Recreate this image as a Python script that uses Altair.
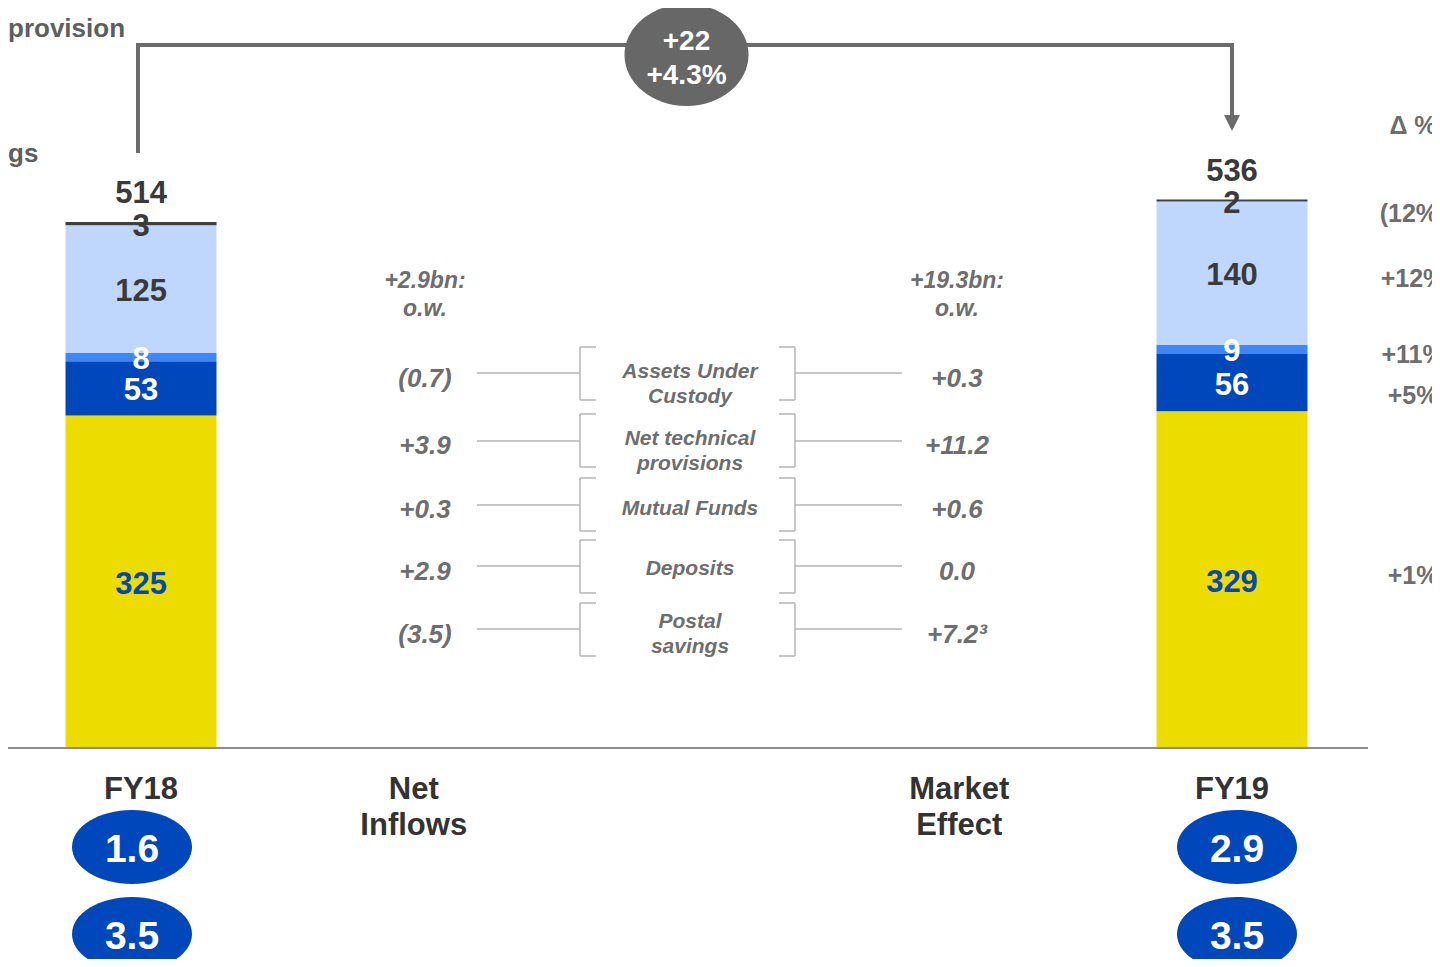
import altair as alt
import pandas as pd

FONT = "Liberation Sans"

# ---------------- data ----------------
bridge_keys = ["FY18", "Net Inflows", "mid", "Market Effect", "FY19"]
bridge_labels = ["FY18", "Net\nInflows", "", "Market\nEffect", "FY19"]
periods = ["FY18", "FY19"]
segments = ["Postal savings", "Deposits", "Mutual Funds",
            "Net technical provisions", "Assets Under Custody"]
fy18_values = [325, 53, 8, 125, 3]
fy19_values = [329, 56, 9, 140, 2]
delta_header = "Δ %"
delta_labels = ["+1%", "+5%", "+11%", "+12%", "(12%)"]          # same order as segments

row_names = ["Assets Under\nCustody", "Net technical\nprovisions",
             "Mutual Funds", "Deposits", "Postal\nsavings"]
net_inflow_labels = ["(0.7)", "+3.9", "+0.3", "+2.9", "(3.5)"]
market_effect_labels = ["+0.3", "+11.2", "+0.6", "0.0", "+7.2³"]
net_inflow_total = "+2.9bn:\no.w."
market_effect_total = "+19.3bn:\no.w."
total_change = "+22\n+4.3%"
fy18_bubbles = ["1.6", "3.5"]
fy19_bubbles = ["2.9", "3.5"]
cropped_legend = ["provision", "gs"]

# ---------------- styles / layout ----------------
seg_colors = ["#EDDC00", "#0047BB", "#3F86F7", "#BFD6FD", "#404040"]
seg_label_colors = ["#0047BB", "#FFFFFF", "#FFFFFF", "#3A3A3A", "#3A3A3A"]
DARK = "#3A3A3A"
GREY = "#6E6E6E"
LINE_GREY = "#B4B4B4"
BLUE = "#0047BB"

W, H = 1424, 951
OFF = 8  # page margin


def px(v):
    return v - OFF


def top_y(center, size):
    # y for baseline="top" so that the first line's cap centre sits at `center` (page px)
    return px(center) - 0.432 * size


xscale = alt.Scale(domain=bridge_keys, paddingInner=0.4464, paddingOuter=0.3337, align=0.316)
yscale = alt.Scale(domain=[-206.2, 723.2], nice=False, zero=False)

rows = []
for p, vals in zip(periods, [fy18_values, fy19_values]):
    for i, (s, v) in enumerate(zip(segments, vals)):
        rows.append({"cat": p, "segment": s, "value": v, "idx": i,
                     "label_color": seg_label_colors[i]})
bars_df = pd.DataFrame(rows)

bars = alt.Chart(bars_df).mark_bar().encode(
    x=alt.X("cat:N", scale=xscale, axis=None),
    y=alt.Y("value:Q", stack="zero", scale=yscale, axis=None),
    color=alt.Color("segment:N", scale=alt.Scale(domain=segments, range=seg_colors), legend=None),
    order=alt.Order("idx:Q", sort="ascending"),
)

seg_labels = alt.Chart(bars_df).transform_stack(
    stack="value", groupby=["cat"], as_=["y0", "y1"],
    sort=[alt.SortField("idx", order="ascending")],
).transform_calculate(mid="(datum.y0 + datum.y1) / 2").mark_text(
    font=FONT, fontSize=31, fontWeight="bold", baseline="middle", dy=3
).encode(
    x=alt.X("cat:N", scale=xscale, axis=None),
    y=alt.Y("mid:Q", scale=yscale, axis=None),
    text=alt.Text("value:Q"),
    color=alt.Color("label_color:N", scale=None),
)

totals = alt.Chart(bars_df).transform_aggregate(
    total="sum(value)", groupby=["cat"]
).mark_text(font=FONT, fontSize=31, fontWeight="bold", baseline="middle", dy=-28, color=DARK).encode(
    x=alt.X("cat:N", scale=xscale, axis=None),
    y=alt.Y("total:Q", scale=yscale, axis=None),
    text=alt.Text("total:Q"),
)

cat_df = pd.DataFrame({"cat": bridge_keys, "label": bridge_labels})
cat_labels = alt.Chart(cat_df).mark_text(
    font=FONT, fontSize=31, fontWeight="bold", baseline="top", lineBreak="\n",
    lineHeight=36, color="#333333"
).encode(
    x=alt.X("cat:N", scale=xscale, axis=None),
    y=alt.value(top_y(788, 31)),
    text="label:N",
)

baseline = alt.Chart(pd.DataFrame({"a": [0]})).mark_rule(color="#8C8C8C", strokeWidth=2).encode(
    x=alt.value(0), x2=alt.value(px(1368)),
    y=alt.YDatum(0, type="quantitative", scale=yscale, axis=None),
)

# top bracket with arrow
bracket_df = pd.DataFrame({"x": [px(138), px(138), px(1232), px(1232)],
                           "y": [px(153), px(45), px(45), px(118)],
                           "o": [0, 1, 2, 3]})
bracket = alt.Chart(bracket_df).mark_line(color="#6B6B6B", strokeWidth=4, strokeJoin="miter").encode(
    x=alt.X("x:Q", scale=None), y=alt.Y("y:Q", scale=None), order="o:Q")
arrow = alt.Chart(pd.DataFrame({"a": [0]})).mark_point(
    shape="M-1,-1L1,-1L0,1Z", filled=True, opacity=1, color="#6B6B6B", size=256
).encode(x=alt.value(px(1232)), y=alt.value(px(123)))

ELL_GREY = "M-1,0A1,0.823,0,1,0,1,0A1,0.823,0,1,0,-1,0Z"
ELL_BLUE = "M-1,0A1,0.617,0,1,0,1,0A1,0.617,0,1,0,-1,0Z"

change_bubble = alt.Chart(pd.DataFrame({"cat": ["mid"]})).mark_point(
    shape=ELL_GREY, filled=True, opacity=1, color="#676767", size=124 ** 2
).encode(x=alt.X("cat:N", scale=xscale, axis=None), y=alt.value(px(55)))
change_text = alt.Chart(pd.DataFrame({"cat": ["mid"], "t": [total_change]})).mark_text(
    font=FONT, fontSize=28, fontWeight="bold", baseline="top", lineBreak="\n",
    lineHeight=34, color="white"
).encode(x=alt.X("cat:N", scale=xscale, axis=None), y=alt.value(top_y(40, 28)), text="t:N")

bub_rows = []
for xpos, labels in zip([132, 1237], [fy18_bubbles, fy19_bubbles]):
    for ypos, lab in zip([847, 934], labels):
        bub_rows.append({"x": px(xpos), "y": px(ypos), "t": lab, "ty": top_y(ypos + 1, 39)})
bub_df = pd.DataFrame(bub_rows)
bubbles = alt.Chart(bub_df).mark_point(
    shape=ELL_BLUE, filled=True, opacity=1, color=BLUE, size=120 ** 2
).encode(x=alt.X("x:Q", scale=None), y=alt.Y("y:Q", scale=None))
bubble_text = alt.Chart(bub_df).mark_text(
    font=FONT, fontSize=39, fontWeight="bold", baseline="top", color="white"
).encode(x=alt.X("x:Q", scale=None), y=alt.Y("ty:Q", scale=None), text="t:N")

# middle breakdown
val_centres = [377, 444, 508, 570, 633]
name_centres = [370, 437, 507, 567, 620]
line_ys = [373, 441, 505, 566, 629]
br_top = [347, 414, 478, 540, 603]
br_bot = [400, 467, 531, 593, 656]

hdr_df = pd.DataFrame({"x": [px(425), px(957)], "y": [top_y(280, 23)] * 2,
                       "t": [net_inflow_total, market_effect_total]})
headers = alt.Chart(hdr_df).mark_text(
    font=FONT, fontSize=23, fontWeight="bold", fontStyle="italic", baseline="top",
    lineBreak="\n", lineHeight=28, color=GREY
).encode(x=alt.X("x:Q", scale=None), y=alt.Y("y:Q", scale=None), text="t:N")

vals_df = pd.DataFrame({
    "x": [px(425)] * 5 + [px(957)] * 5,
    "y": [top_y(c, 26) for c in val_centres] * 2,
    "t": net_inflow_labels + market_effect_labels,
})
values = alt.Chart(vals_df).mark_text(
    font=FONT, fontSize=26, fontWeight="bold", fontStyle="italic", baseline="top", color=GREY
).encode(x=alt.X("x:Q", scale=None), y=alt.Y("y:Q", scale=None), text="t:N")

names_df = pd.DataFrame({"x": [px(690)] * 5, "y": [top_y(c, 21) for c in name_centres],
                         "t": row_names})
names = alt.Chart(names_df).mark_text(
    font=FONT, fontSize=21, fontWeight="bold", fontStyle="italic", baseline="top",
    lineBreak="\n", lineHeight=25, color=GREY
).encode(x=alt.X("x:Q", scale=None), y=alt.Y("y:Q", scale=None), text="t:N")

segs = []
for ly, t, b in zip(line_ys, br_top, br_bot):
    segs += [
        (477, ly, 580, ly), (795, ly, 902, ly),          # connectors
        (580, t, 580, b), (580, t, 596, t), (580, b, 596, b),  # left bracket
        (795, t, 795, b), (779, t, 795, t), (779, b, 795, b),  # right bracket
    ]
seg_df = pd.DataFrame([{"x": px(a), "y": px(b), "x2": px(c), "y2": px(d)} for a, b, c, d in segs])
connectors = alt.Chart(seg_df).mark_rule(color=LINE_GREY, strokeWidth=1.5).encode(
    x=alt.X("x:Q", scale=None), y=alt.Y("y:Q", scale=None),
    x2="x2:Q", y2="y2:Q")

# delta % column (cropped at the right edge)
delta_centres = [575, 395, 354, 278, 213]
d_df = pd.DataFrame({"x": [px(1413)] * 6,
                     "y": [top_y(125, 25)] + [top_y(c, 25) for c in delta_centres],
                     "t": [delta_header] + delta_labels})
deltas = alt.Chart(d_df).mark_text(
    font=FONT, fontSize=25, fontWeight="bold", baseline="top", color=GREY
).encode(x=alt.X("x:Q", scale=None), y=alt.Y("y:Q", scale=None), text="t:N")

# cropped legend fragments at top-left
l_df = pd.DataFrame({"x": [0, 0], "y": [top_y(27, 26), top_y(152, 26)], "t": cropped_legend})
legend_frag = alt.Chart(l_df).mark_text(
    font=FONT, fontSize=26, fontWeight="bold", baseline="top", align="left", color="#5E5E5E"
).encode(x=alt.X("x:Q", scale=None), y=alt.Y("y:Q", scale=None), text="t:N")

chart = alt.layer(
    bars, seg_labels, totals, cat_labels, baseline, bracket, arrow,
    change_bubble, change_text, bubbles, bubble_text,
    headers, values, names, connectors, deltas, legend_frag,
).properties(
    width=W, height=H, padding=0, background="white",
    autosize=alt.AutoSizeParams(type="none"),
).configure_view(strokeWidth=0, stroke=None)

chart.save("out.html", embed_options={"renderer": "svg", "actions": False})
